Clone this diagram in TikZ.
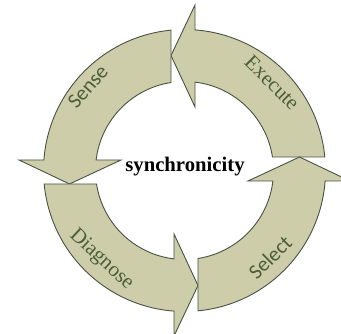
\documentclass[tikz,border=0pt]{standalone}
\usepackage{fontspec}
\usetikzlibrary{calc}
\setmainfont{Liberation Serif}
\newfontfamily\lblsans{Carlito}
\newfontfamily\lblserif{Liberation Serif}
\definecolor{arrfill}{RGB}{205,205,170}
\definecolor{arrline}{RGB}{72,82,68}
\definecolor{lbltext}{RGB}{76,94,56}
\tikzset{
  arrowshape/.style={fill=arrfill, draw=arrline, line width=0.9pt, line join=miter},
  lbl/.style={text=lbltext, inner sep=0pt, font=\fontsize{21}{21}\selectfont},
  centertxt/.style={text=black, inner sep=0pt, font=\fontsize{20.7}{21}\selectfont\bfseries}
}
\newcommand{\cyclearrow}{%
  (140.35,13.5) arc[start angle=5.49, end angle=85.73, radius=141]
  -- (10.5,165.5) -- (-13.5,115) -- (10.5,63.5) -- (10.5,88.38)
  arc[start angle=83.22, end angle=8.72, radius=89] -- cycle}
\begin{document}
\begin{tikzpicture}[x=1pt,y=1pt]
\useasboundingbox (0,0) rectangle (341,334);
\clip (0,0) rectangle (341,334);
\coordinate (C) at (184.5,163.5);
% Execute (top-right)
\begin{scope}[shift={(C)}]
  \path[arrowshape] \cyclearrow;
\end{scope}
% Sense (top-left)
\begin{scope}[shift={(C)}, rotate=90]
  \path[arrowshape] \cyclearrow;
\end{scope}
% Diagnose (bottom-left)
\begin{scope}[shift={(C)}, rotate=180]
  \path[arrowshape] \cyclearrow;
\end{scope}
% Select (bottom-right)
\begin{scope}[shift={(C)}, rotate=270]
  \path[arrowshape] \cyclearrow;
\end{scope}
% labels
\node[lbl, rotate=-45] (execute) at ($(C)+(45:124)$) {\lblserif Execute};
\node[lbl, rotate=49] (sense) at ($(C)+(139:128)$) {\lblsans Sense};
\node[lbl, rotate=-43] (diagnose) at ($(C)+(227:122)$) {\lblserif Diagnose};
\node[lbl, rotate=44.5] (select) at ($(C)+(314.5:122)$) {\lblsans Select};
\node[centertxt, anchor=base] (sync) at (185,162) {synchronicity};
\end{tikzpicture}
\end{document}
